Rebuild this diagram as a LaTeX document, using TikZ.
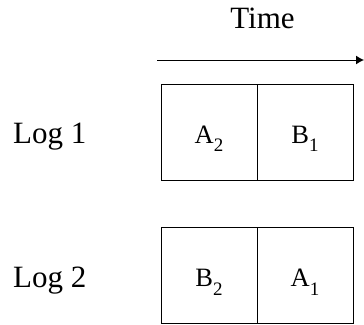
\documentclass[tikz,border=0pt]{standalone}
\usepackage{fontspec}
\setmainfont{Liberation Serif}
\usetikzlibrary{arrows.meta}
\newcommand{\lowsub}[1]{\raisebox{-8.5pt}{\fontsize{19}{20}\selectfont #1}}
\begin{document}
\begin{tikzpicture}[x=1pt,y=-1pt,
  bigfont/.style={font=\fontsize{31}{36}\selectfont},
  cell/.style={draw, line width=1pt, minimum width=96pt, minimum height=96pt,
    inner sep=0pt, text height=22.6pt, text depth=0pt, font=\fontsize{26.5}{30}\selectfont},
  lbl/.style={inner sep=0pt, bigfont},
  timeline/.style={line width=1pt, -{Latex[length=8pt,width=9pt]}}]
\useasboundingbox (0,0) rectangle (364,324);
\node[lbl, anchor=base] (time) at (262.5,28.3) {Time};
\coordinate (ts) at (157,60);
\coordinate (te) at (364,60);
\draw[timeline] (ts) -- (te);
\node[lbl, anchor=base west] (log1) at (13,143.3) {Log 1};
\node[lbl, anchor=base west] (log2) at (13,287.3) {Log 2};
\node[cell] (a2) at (209,132) {A\lowsub{2}};
\node[cell] (b1) at (305,132) {B\lowsub{1}};
\node[cell] (b2) at (209,275.5) {B\lowsub{2}};
\node[cell] (a1) at (305,275.5) {A\lowsub{1}};
\end{tikzpicture}
\end{document}
